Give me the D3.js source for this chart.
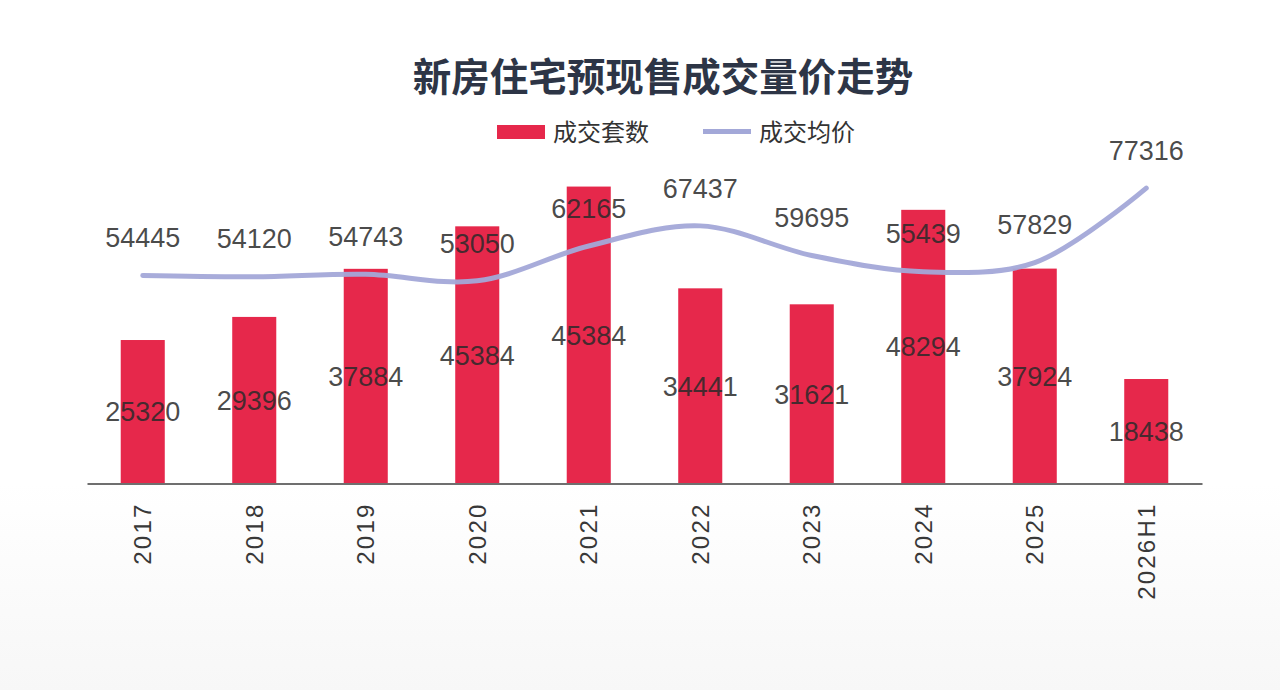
<!DOCTYPE html>
<html><head><meta charset="utf-8">
<script src="https://cdn.jsdelivr.net/npm/d3@7"></script>
<style>
html,body{margin:0;padding:0;background:#fff;}
svg{display:block;}
</style></head>
<body>
<svg id="chart" width="1280" height="690"></svg>
<script>
const title = "新房住宅预现售成交量价走势";
const categories = ["2017","2018","2019","2020","2021","2022","2023","2024","2025","2026H1"];
// bar heights as drawn (成交套数)
const units = [25320, 29396, 37884, 45384, 52400, 34441, 31621, 48294, 37924, 18438];
// bar labels as printed in the picture
const unitLabels = ["25320","29396","37884","45384","45384","34441","31621","48294","37924","18438"];
// 成交均价
const prices = [54445, 54120, 54743, 53050, 62165, 67437, 59695, 55439, 57829, 77316];
const legendNames = ["成交套数", "成交均价"];

const svg = d3.select("#chart");
const W = 1280, H = 690;
const left = 87, right = 1202, baseY = 483.5, topY = 143.5;
const barColor = "#e6284b", lineColor = "#a3a8d8", textColor = "#2a2a2a";
const font = "'Liberation Sans', Arial, sans-serif";

// faint background texture
const defs = svg.append("defs");
const grad = defs.append("linearGradient").attr("id","bg").attr("x1",0).attr("y1",0).attr("x2",0).attr("y2",1);
grad.append("stop").attr("offset","0%").attr("stop-color","#ffffff");
grad.append("stop").attr("offset","70%").attr("stop-color","#ffffff");
grad.append("stop").attr("offset","100%").attr("stop-color","#f7f7f7");
svg.append("rect").attr("width",W).attr("height",H).attr("fill","url(#bg)");

const x = d3.scaleBand().domain(categories).range([left, right]).paddingInner(0).paddingOuter(0);
const barW = x.step() * 0.395;
const yU = d3.scaleLinear().domain([0, 60000]).range([baseY, topY]);
const yP = d3.scaleLinear().domain([0, 89000]).range([baseY, topY]);
const cx = c => x(c) + x.bandwidth() / 2;

// title
svg.append("text").attr("x", 663).attr("y", 91).attr("text-anchor","middle")
  .attr("font-family","'Noto Sans CJK SC', sans-serif").attr("font-weight",700)
  .attr("font-size",38.5).attr("fill","#2d3546").text(title);

// legend
const lg = svg.append("g").attr("font-family","'Noto Sans CJK SC', sans-serif").attr("font-size",24).attr("fill","#333");
lg.append("rect").attr("x",497).attr("y",125).attr("width",48).attr("height",14).attr("fill",barColor);
lg.append("text").attr("x",553).attr("y",141).text(legendNames[0]);
lg.append("line").attr("x1",703).attr("x2",751).attr("y1",131.5).attr("y2",131.5)
  .attr("stroke",lineColor).attr("stroke-width",5);
lg.append("text").attr("x",759).attr("y",141).text(legendNames[1]);

// bars
svg.append("g").selectAll("rect").data(categories).join("rect")
  .attr("x", c => cx(c) - barW/2)
  .attr("y", (c,i) => yU(units[i]))
  .attr("width", barW)
  .attr("height", (c,i) => baseY + 1 - yU(units[i]))
  .attr("fill", barColor);

// axis
const axis = d3.axisBottom(x).tickSize(0).tickPadding(0);
const ag = svg.append("g").attr("transform", `translate(0,${baseY})`).call(axis);
ag.select(".domain").attr("stroke","#6f6f6f").attr("stroke-width",2);
ag.selectAll(".tick text")
  .attr("font-family", font).attr("font-size", 24).attr("fill","#383838")
  .attr("letter-spacing", "2.2px")
  .attr("transform","rotate(-90)")
  .attr("text-anchor","end")
  .attr("dy","0.36em")
  .attr("x", -19).attr("y", 0);

// price line
const line = d3.line().x((d,i) => cx(categories[i])).y(d => yP(d)).curve(d3.curveCatmullRom.alpha(0.5));
svg.append("path").datum(prices).attr("d", line).attr("fill","none")
  .attr("stroke", lineColor).attr("stroke-width",5).attr("stroke-linecap","round").attr("opacity",0.95);

// bar labels (middle of bar)
svg.append("g").selectAll("text").data(categories).join("text")
  .attr("x", c => cx(c))
  .attr("y", (c,i) => (yU(units[i]) + baseY) / 2)
  .attr("dy","0.36em").attr("text-anchor","middle")
  .attr("font-family", font).attr("font-size", 27).attr("fill", textColor).attr("fill-opacity",0.85)
  .text((c,i) => unitLabels[i]);

// price labels
svg.append("g").selectAll("text").data(categories).join("text")
  .attr("x", c => cx(c))
  .attr("y", (c,i) => yP(prices[i]) - 38)
  .attr("dy","0.36em").attr("text-anchor","middle")
  .attr("font-family", font).attr("font-size", 27).attr("fill", textColor).attr("fill-opacity",0.85)
  .text((c,i) => d3.format("d")(prices[i]));
</script>
</body></html>
